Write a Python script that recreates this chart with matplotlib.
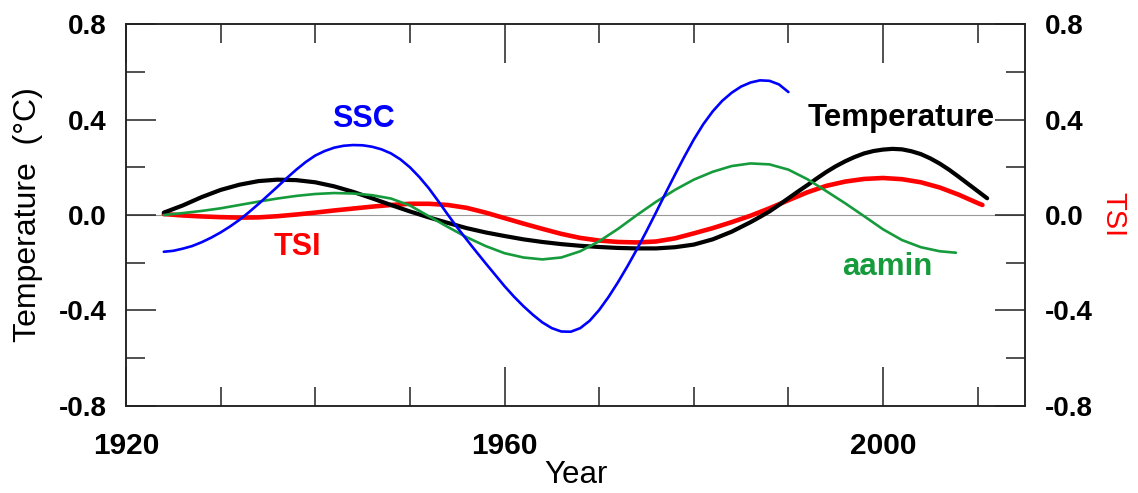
import numpy as np
import matplotlib.pyplot as plt
from matplotlib.ticker import MultipleLocator

plt.rcParams['font.family'] = ['Liberation Sans', 'DejaVu Sans']

# smoothed series, anomalies relative to the 0 line
temp_years = [1924, 1926, 1928, 1930, 1932, 1934, 1936, 1938, 1940, 1942, 1944, 1946,
              1948, 1950, 1952, 1954, 1956, 1958, 1960, 1962, 1964, 1966, 1968, 1970,
              1972, 1974, 1976, 1978, 1980, 1982, 1984, 1986, 1987, 1988, 1989, 1990,
              1991, 1992, 1993, 1994, 1995, 1996, 1997, 1998, 1999, 2000, 2001, 2002,
              2003, 2004, 2005, 2006, 2007, 2008, 2009, 2010, 2011]
temp_vals = [0.01, 0.04, 0.075, 0.105, 0.127, 0.142, 0.148, 0.146, 0.137, 0.12, 0.097, 0.07,
             0.042, 0.015, -0.01, -0.033, -0.055, -0.073, -0.088, -0.102, -0.113, -0.122,
             -0.129, -0.134, -0.138, -0.14, -0.14, -0.135, -0.124, -0.102, -0.07, -0.03,
             -0.008, 0.015, 0.042, 0.07, 0.098, 0.125, 0.153, 0.18, 0.204, 0.225, 0.243,
             0.258, 0.268, 0.274, 0.277, 0.275, 0.267, 0.255, 0.237, 0.215, 0.189, 0.16,
             0.13, 0.1, 0.07]

tsi_years = [1924, 1926, 1928, 1930, 1932, 1934, 1936, 1938, 1940, 1942, 1944, 1946,
             1948, 1950, 1952, 1954, 1956, 1958, 1960, 1962, 1964, 1966, 1968, 1970,
             1972, 1974, 1976, 1978, 1980, 1982, 1984, 1986, 1988, 1990, 1992, 1994,
             1996, 1998, 2000, 2002, 2004, 2006, 2008, 2010, 2010.5]
tsi_vals = [0.004, -0.002, -0.006, -0.009, -0.011, -0.01, -0.005, 0.002, 0.01, 0.019,
            0.027, 0.035, 0.042, 0.047, 0.047, 0.042, 0.03, 0.01, -0.013, -0.036, -0.058,
            -0.079, -0.096, -0.107, -0.113, -0.115, -0.111, -0.098, -0.077, -0.055, -0.03,
            -0.003, 0.028, 0.062, 0.095, 0.122, 0.14, 0.151, 0.155, 0.15, 0.137, 0.115,
            0.085, 0.05, 0.042]

aa_years = [1924, 1926, 1928, 1930, 1932, 1934, 1936, 1938, 1940, 1942, 1944, 1946,
            1948, 1950, 1952, 1954, 1956, 1958, 1960, 1962, 1964, 1966, 1968, 1970,
            1972, 1974, 1976, 1978, 1980, 1982, 1984, 1986, 1988, 1990, 1992, 1994,
            1996, 1998, 2000, 2002, 2004, 2006, 2007.7]
aa_vals = [0.0, 0.008, 0.017, 0.028, 0.042, 0.056, 0.069, 0.08, 0.088, 0.092, 0.09, 0.083,
           0.069, 0.04, -0.005, -0.05, -0.093, -0.13, -0.16, -0.178, -0.186, -0.178,
           -0.152, -0.11, -0.058, 0.0, 0.055, 0.105, 0.148, 0.181, 0.205, 0.216, 0.212,
           0.19, 0.15, 0.1, 0.049, -0.005, -0.06, -0.105, -0.135, -0.152, -0.158]

ssc_years = list(range(1924, 1991))
ssc_vals = [-0.154, -0.150, -0.141, -0.130, -0.114, -0.095, -0.073, -0.048, -0.020, 0.012,
            0.046, 0.082, 0.118, 0.155, 0.190, 0.222, 0.249, 0.268, 0.282, 0.290,
            0.293, 0.292, 0.286, 0.275, 0.258, 0.233, 0.200, 0.159, 0.112, 0.058,
            0.002, -0.052, -0.103, -0.153, -0.202, -0.250, -0.298, -0.342, -0.382, -0.418,
            -0.450, -0.474, -0.488, -0.489, -0.474, -0.443, -0.398, -0.343, -0.281, -0.214,
            -0.143, -0.068, 0.010, 0.090, 0.168, 0.244, 0.316, 0.380, 0.434, 0.478,
            0.512, 0.538, 0.555, 0.564, 0.562, 0.547, 0.515]

fig = plt.figure(figsize=(11.38, 4.93), dpi=100)
ax = fig.add_axes([0.1107, 0.1765, 0.79, 0.7748])

line_kw = dict(solid_joinstyle='round', solid_capstyle='round')
ax.axhline(0, color='#999999', linewidth=0.8, zorder=1)
ax.plot(tsi_years, tsi_vals, color='#ff0000', linewidth=3.3, zorder=2, **line_kw)
ax.plot(temp_years, temp_vals, color='black', linewidth=3.0, zorder=3, **line_kw)
ax.plot(aa_years, aa_vals, color='#169b3c', linewidth=1.9, zorder=4, **line_kw)
ax.plot(ssc_years, ssc_vals, color='#0000ff', linewidth=1.9, zorder=5, **line_kw)

ax.set_xlim(1920, 2015)
ax.set_ylim(-0.8, 0.8)
ax.xaxis.set_major_locator(MultipleLocator(40))
ax.xaxis.set_minor_locator(MultipleLocator(10))
ax.yaxis.set_major_locator(MultipleLocator(0.4))
ax.yaxis.set_minor_locator(MultipleLocator(0.2))
ax.yaxis.set_major_formatter(lambda v, p: f'{v:.1f}')

for s in ax.spines.values():
    s.set_linewidth(1.1)
    s.set_color('#222222')

ax.tick_params(axis='x', which='major', direction='in', length=28, width=1.1,
               top=True, labelsize=21.5, pad=19, color='#222222')
ax.tick_params(axis='x', which='minor', direction='in', length=14, width=1.1,
               top=True, color='#222222')
ax.tick_params(axis='y', which='major', direction='in', length=21.5, width=1.1,
               labelsize=20, pad=14, color='#222222')
ax.tick_params(axis='y', which='minor', direction='in', length=14, width=1.1,
               color='#222222')
for lab in ax.get_xticklabels() + ax.get_yticklabels():
    lab.set_fontweight('bold')

# right axis repeats the scale for TSI
ax2 = ax.twinx()
ax2.set_ylim(-0.8, 0.8)
ax2.yaxis.set_major_locator(MultipleLocator(0.4))
ax2.yaxis.set_minor_locator(MultipleLocator(0.2))
ax2.yaxis.set_major_formatter(lambda v, p: f'{v:.1f}')
ax2.tick_params(axis='y', which='major', direction='in', length=21.5, width=1.1,
                labelsize=20, pad=14, color='#222222')
ax2.tick_params(axis='y', which='minor', direction='in', length=14, width=1.1,
                color='#222222')
for lab in ax2.get_yticklabels():
    lab.set_fontweight('bold')
for s in ax2.spines.values():
    s.set_linewidth(1.1)
    s.set_color('#222222')

ax.set_xlabel('Year', fontsize=22.5, labelpad=0)
ax.set_ylabel('Temperature  (°C)', fontsize=23, labelpad=11)
ax2.set_ylabel('TSI', fontsize=21, color='#ff0000', rotation=270, labelpad=25)

ax.text(1945.1, 0.37, 'SSC', color='#0000ff', fontsize=22, fontweight='bold',
        ha='center', va='baseline')
ax.text(1938.1, -0.168, 'TSI', color='#ff0000', fontsize=22, fontweight='bold',
        ha='center', va='baseline')
ax.text(2001.9, 0.373, 'Temperature', color='black', fontsize=22.5, fontweight='bold',
        ha='center', va='baseline')
ax.text(2000.5, -0.251, 'aamin', color='#169b3c', fontsize=22.5, fontweight='bold',
        ha='center', va='baseline')

fig.savefig('out.png', dpi=100)
